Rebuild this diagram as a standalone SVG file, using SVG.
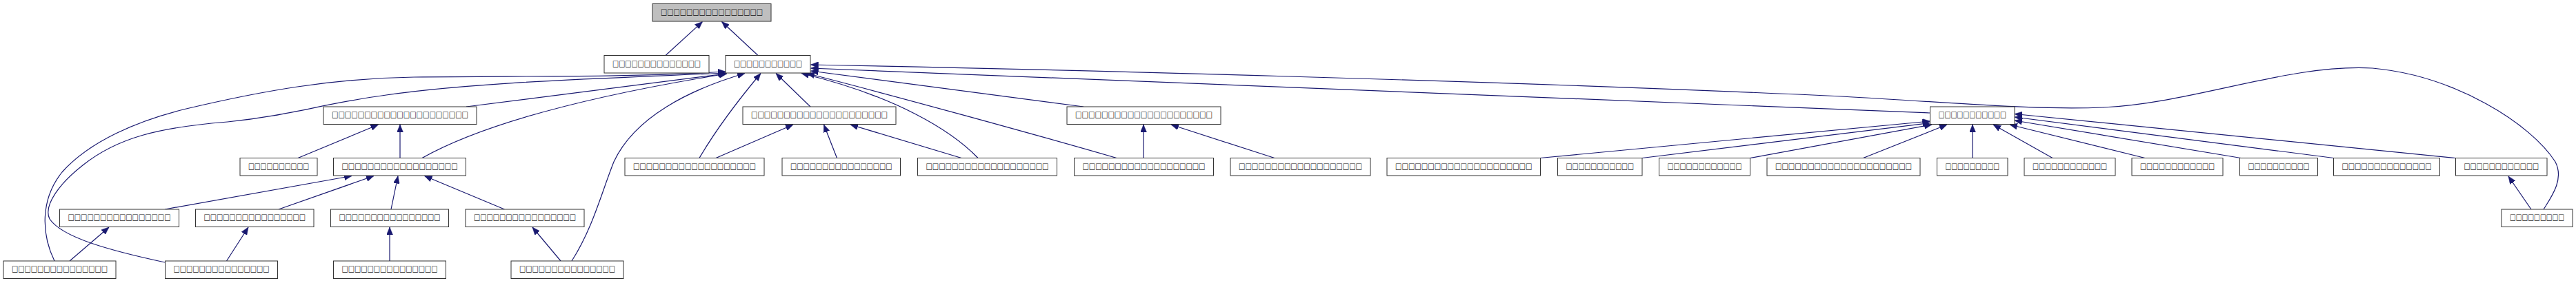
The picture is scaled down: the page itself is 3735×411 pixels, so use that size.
<svg xmlns="http://www.w3.org/2000/svg" width="3735" height="411" viewBox="0 0 3735 411">
<style>
.nd rect{fill:#ffffff;stroke:#333333;stroke-width:1}
.root rect{fill:#bfbfbf}
.nd text{font-family:"DejaVu Sans","Noto Sans CJK SC",sans-serif;font-size:11.5px;fill:#111111;text-anchor:middle}
.ed path{fill:none;stroke:#191970;stroke-width:1.2;marker-end:url(#ah)}
</style>
<defs>
<marker id="ah" viewBox="0 0 11 9" refX="11" refY="4.5" markerWidth="11" markerHeight="9" orient="auto" markerUnits="userSpaceOnUse">
<path d="M0,0 L11,4.5 L0,9 z" fill="#191970" stroke="#191970" stroke-width="0.5"/>
</marker>
</defs>
<rect x="0" y="0" width="3735" height="411" fill="#ffffff"/>
<g id="connectors" class="ed">
<path d="M965,80.5 L1018.5,31.5"/>
<path d="M1099,80.5 L1046.5,31.5"/>
<path d="M79,379 C60,340 58,290 90,250 C130,205 200,175 270,158 C380,132 480,114 600,112 C760,110 900,113 1052,104"/>
<path d="M239,381 C160,364 90,345 72,318 C62,298 88,265 120,240 C170,200 230,185 330,177 C420,168 470,150 560,138 C700,118 900,113 1052,106"/>
<path d="M676,155 L1053,107"/>
<path d="M612,229.5 C700,180 850,140 1054,107"/>
<path d="M829,379 C860,330 872,280 890,235 C920,170 1000,130 1080,106.5"/>
<path d="M1014,229.5 C1040,185 1075,140 1103,106.5"/>
<path d="M1175,155 L1125,106.5"/>
<path d="M1418,229.5 C1380,190 1300,140 1162,106.5"/>
<path d="M1619,229.5 C1500,195 1300,140 1170,106.5"/>
<path d="M1571,155 L1175.5,103"/>
<path d="M2798.5,164 L1175.5,99"/>
<path d="M3688,304 C3700,285 3718,260 3705,235 C3670,180 3560,110 3440,99 C3320,92 3180,150 3050,156 C2950,160 2850,150 2670,140 C2200,118 1500,100 1175.5,94"/>
<path d="M432,229.5 L548.5,181"/>
<path d="M580,229.5 L580,181"/>
<path d="M239,304 L510,255.5"/>
<path d="M404,304 L542,255.5"/>
<path d="M567,304 L577,255.5"/>
<path d="M731.5,304 L615.5,255.5"/>
<path d="M101,379 L158,330"/>
<path d="M328.5,379 L360,330"/>
<path d="M565,379 L565,330"/>
<path d="M813,379 L772,330"/>
<path d="M1038,229.5 L1150,181"/>
<path d="M1213.5,229.5 L1194.5,181"/>
<path d="M1394,229.5 L1233,181"/>
<path d="M1658,229.5 L1658,181"/>
<path d="M1848,229.5 L1698,181"/>
<path d="M2233,229.5 L2798.5,176"/>
<path d="M2381,229.5 L2798.5,178.5"/>
<path d="M2537.5,229.5 L2801,181"/>
<path d="M2701.5,229.5 L2823,181"/>
<path d="M2860,229.5 L2860,181"/>
<path d="M2976,229.5 L2890,181"/>
<path d="M3110,229.5 L2914,181"/>
<path d="M3249,229.5 L2921,175"/>
<path d="M3383.5,229.5 L2921,170"/>
<path d="M3560,229.5 L2921,165.5"/>
<path d="M3670,304 L3637,256"/>
</g>
<g id="n_root" class="nd root"><rect x="946" y="5.5" width="172" height="25.5"/><text x="1032" y="20.5" textLength="148" lengthAdjust="spacingAndGlyphs">□□□□□□□□□□□□□□□□</text></g>
<g id="n_a" class="nd"><rect x="876" y="80.5" width="152" height="25.5"/><text x="952" y="95.5" textLength="128" lengthAdjust="spacingAndGlyphs">□□□□□□□□□□□□□□</text></g>
<g id="n_b" class="nd"><rect x="1052" y="80.5" width="123" height="25.5"/><text x="1113.5" y="95.5" textLength="99" lengthAdjust="spacingAndGlyphs">□□□□□□□□□□□</text></g>
<g id="n_c" class="nd"><rect x="469" y="155" width="222" height="25.5"/><text x="580" y="170" textLength="198" lengthAdjust="spacingAndGlyphs">□□□□□□□□□□□□□□□□□□□□□</text></g>
<g id="n_d" class="nd"><rect x="1077" y="155" width="222" height="25.5"/><text x="1188" y="170" textLength="198" lengthAdjust="spacingAndGlyphs">□□□□□□□□□□□□□□□□□□□□□</text></g>
<g id="n_e" class="nd"><rect x="1547" y="155" width="223" height="25.5"/><text x="1658.5" y="170" textLength="199" lengthAdjust="spacingAndGlyphs">□□□□□□□□□□□□□□□□□□□□□</text></g>
<g id="n_f" class="nd"><rect x="2798.5" y="155" width="122.5" height="25.5"/><text x="2859.75" y="170" textLength="98.5" lengthAdjust="spacingAndGlyphs">□□□□□□□□□□□</text></g>
<g id="n_g" class="nd"><rect x="348" y="229.5" width="112" height="25.5"/><text x="404" y="244.5" textLength="88" lengthAdjust="spacingAndGlyphs">□□□□□□□□□□</text></g>
<g id="n_h" class="nd"><rect x="483.5" y="229.5" width="192" height="25.5"/><text x="579.5" y="244.5" textLength="168" lengthAdjust="spacingAndGlyphs">□□□□□□□□□□□□□□□□□□</text></g>
<g id="n_i" class="nd"><rect x="906" y="229.5" width="202" height="25.5"/><text x="1007" y="244.5" textLength="178" lengthAdjust="spacingAndGlyphs">□□□□□□□□□□□□□□□□□□□</text></g>
<g id="n_j" class="nd"><rect x="1134" y="229.5" width="171.5" height="25.5"/><text x="1219.75" y="244.5" textLength="147.5" lengthAdjust="spacingAndGlyphs">□□□□□□□□□□□□□□□□</text></g>
<g id="n_k" class="nd"><rect x="1330.5" y="229.5" width="202" height="25.5"/><text x="1431.5" y="244.5" textLength="178" lengthAdjust="spacingAndGlyphs">□□□□□□□□□□□□□□□□□□□</text></g>
<g id="n_l" class="nd"><rect x="1557.5" y="229.5" width="202" height="25.5"/><text x="1658.5" y="244.5" textLength="178" lengthAdjust="spacingAndGlyphs">□□□□□□□□□□□□□□□□□□□</text></g>
<g id="n_m" class="nd"><rect x="1784" y="229.5" width="203" height="25.5"/><text x="1885.5" y="244.5" textLength="179" lengthAdjust="spacingAndGlyphs">□□□□□□□□□□□□□□□□□□□</text></g>
<g id="n_n" class="nd"><rect x="2011" y="229.5" width="222.5" height="25.5"/><text x="2122.25" y="244.5" textLength="198.5" lengthAdjust="spacingAndGlyphs">□□□□□□□□□□□□□□□□□□□□□</text></g>
<g id="n_o" class="nd"><rect x="2258.5" y="229.5" width="122.5" height="25.5"/><text x="2319.75" y="244.5" textLength="98.5" lengthAdjust="spacingAndGlyphs">□□□□□□□□□□□</text></g>
<g id="n_p" class="nd"><rect x="2405.5" y="229.5" width="132" height="25.5"/><text x="2471.5" y="244.5" textLength="108" lengthAdjust="spacingAndGlyphs">□□□□□□□□□□□□</text></g>
<g id="n_q" class="nd"><rect x="2562" y="229.5" width="222" height="25.5"/><text x="2673" y="244.5" textLength="198" lengthAdjust="spacingAndGlyphs">□□□□□□□□□□□□□□□□□□□□□</text></g>
<g id="n_r" class="nd"><rect x="2808.5" y="229.5" width="102.5" height="25.5"/><text x="2859.75" y="244.5" textLength="78.5" lengthAdjust="spacingAndGlyphs">□□□□□□□□□</text></g>
<g id="n_s" class="nd"><rect x="2935" y="229.5" width="132" height="25.5"/><text x="3001" y="244.5" textLength="108" lengthAdjust="spacingAndGlyphs">□□□□□□□□□□□□</text></g>
<g id="n_t" class="nd"><rect x="3091" y="229.5" width="132" height="25.5"/><text x="3157" y="244.5" textLength="108" lengthAdjust="spacingAndGlyphs">□□□□□□□□□□□□</text></g>
<g id="n_u" class="nd"><rect x="3247.5" y="229.5" width="113" height="25.5"/><text x="3304" y="244.5" textLength="89" lengthAdjust="spacingAndGlyphs">□□□□□□□□□□</text></g>
<g id="n_v" class="nd"><rect x="3383.5" y="229.5" width="154" height="25.5"/><text x="3460.5" y="244.5" textLength="130" lengthAdjust="spacingAndGlyphs">□□□□□□□□□□□□□□</text></g>
<g id="n_w" class="nd"><rect x="3560.5" y="229.5" width="132.5" height="25.5"/><text x="3626.75" y="244.5" textLength="108.5" lengthAdjust="spacingAndGlyphs">□□□□□□□□□□□□</text></g>
<g id="n_x1" class="nd"><rect x="86.5" y="304" width="173" height="25.5"/><text x="173" y="319" textLength="149" lengthAdjust="spacingAndGlyphs">□□□□□□□□□□□□□□□□</text></g>
<g id="n_x2" class="nd"><rect x="283.5" y="304" width="171.5" height="25.5"/><text x="369.25" y="319" textLength="147.5" lengthAdjust="spacingAndGlyphs">□□□□□□□□□□□□□□□□</text></g>
<g id="n_x3" class="nd"><rect x="479.5" y="304" width="171" height="25.5"/><text x="565" y="319" textLength="147" lengthAdjust="spacingAndGlyphs">□□□□□□□□□□□□□□□□</text></g>
<g id="n_x4" class="nd"><rect x="675" y="304" width="172" height="25.5"/><text x="761" y="319" textLength="148" lengthAdjust="spacingAndGlyphs">□□□□□□□□□□□□□□□□</text></g>
<g id="n_y5" class="nd"><rect x="3627" y="304" width="103" height="25.5"/><text x="3678.5" y="319" textLength="79" lengthAdjust="spacingAndGlyphs">□□□□□□□□□</text></g>
<g id="n_y1" class="nd"><rect x="5" y="379" width="163" height="25.5"/><text x="86.5" y="394" textLength="139" lengthAdjust="spacingAndGlyphs">□□□□□□□□□□□□□□□</text></g>
<g id="n_y2" class="nd"><rect x="239.5" y="379" width="163" height="25.5"/><text x="321" y="394" textLength="139" lengthAdjust="spacingAndGlyphs">□□□□□□□□□□□□□□□</text></g>
<g id="n_y3" class="nd"><rect x="483.5" y="379" width="163" height="25.5"/><text x="565" y="394" textLength="139" lengthAdjust="spacingAndGlyphs">□□□□□□□□□□□□□□□</text></g>
<g id="n_y4" class="nd"><rect x="741" y="379" width="163" height="25.5"/><text x="822.5" y="394" textLength="139" lengthAdjust="spacingAndGlyphs">□□□□□□□□□□□□□□□</text></g>
</svg>
